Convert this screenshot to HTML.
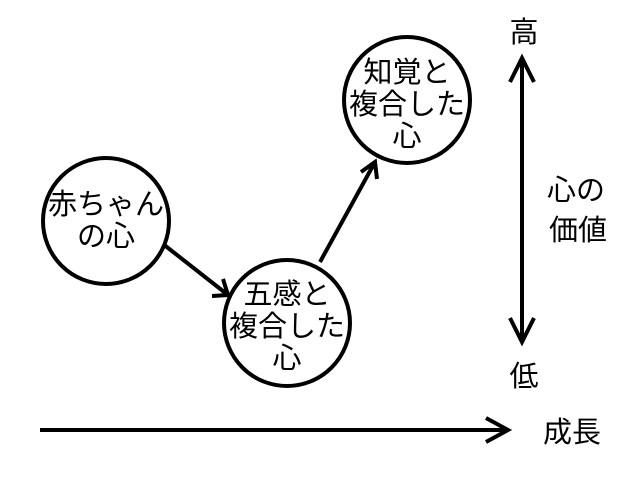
<!DOCTYPE html>
<html><head><meta charset="utf-8"><style>
body{margin:0;background:#fff;}
svg text{font-family:"Liberation Sans","Noto Sans CJK JP",sans-serif;font-size:29px;fill:#000;text-anchor:middle;}
</style></head><body>
<svg width="640" height="480" xmlns="http://www.w3.org/2000/svg">
<g fill="none" stroke="#000" stroke-width="4">
<circle cx="106" cy="221" r="63"/>
<circle cx="287" cy="323" r="63"/>
<circle cx="407" cy="100" r="63"/>
<line x1="163" y1="244" x2="228" y2="295"/>
<polyline points="212,296 228,295 223,279"/>
<line x1="320" y1="262" x2="375" y2="162"/>
<polyline points="361,172 375,162 377,179"/>
<line x1="522" y1="58" x2="522" y2="342"/>
<polyline points="510,82 522,58 534,82"/>
<polyline points="510,318 522,342 534,318"/>
<line x1="40" y1="430" x2="508" y2="430"/>
<polyline points="486,418 508,430 486,442"/>
</g>
<text x="106" y="214">赤ちゃん</text>
<text x="106" y="246">の心</text>
<text x="287" y="304">五感と</text>
<text x="287" y="336">複合した</text>
<text x="287" y="368">心</text>
<text x="407" y="82">知覚と</text>
<text x="407" y="114">複合した</text>
<text x="407" y="146">心</text>
<text x="524" y="42">高</text>
<text x="524" y="386">低</text>
<text x="576" y="200">心の</text>
<text x="578" y="240">価値</text>
<text x="572" y="442">成長</text>
</svg>
</body></html>
